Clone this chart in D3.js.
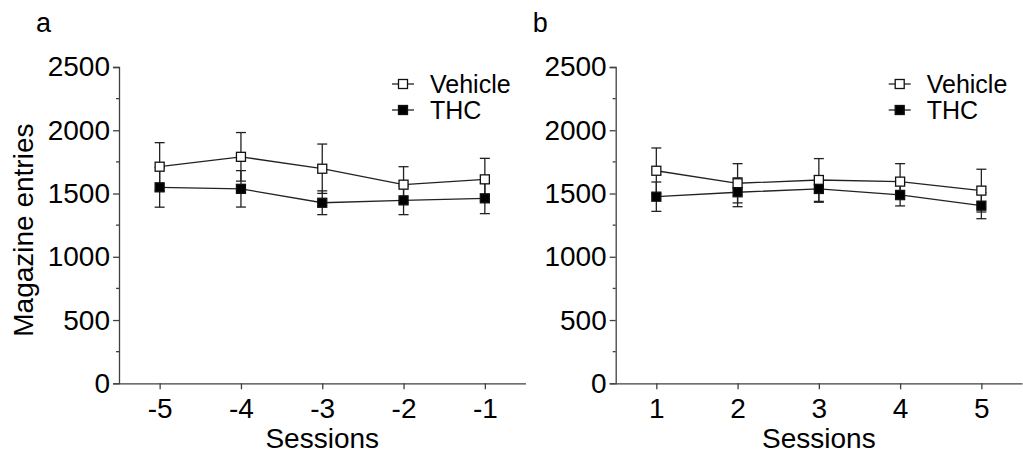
<!DOCTYPE html>
<html>
<head>
<meta charset="utf-8">
<script src="https://cdn.jsdelivr.net/npm/d3@7"></script>
<style>
  html, body { margin: 0; padding: 0; background: #fff; }
  svg { display: block; font-family: "Liberation Sans", Arial, sans-serif; }
</style>
</head>
<body>
<svg id="chart" width="1023" height="458"></svg>
<script>
// ---- Data ----
const sessionsA = [-5, -4, -3, -2, -1];
const sessionsB = [1, 2, 3, 4, 5];
const vehicleA = [1712, 1790, 1696, 1570, 1612];
const vehicleA_err = [190, 192, 195, 142, 166];
const thcA = [1549, 1537, 1427, 1446, 1462];
const thcA_err = [157, 144, 94, 113, 121];
const vehicleB = [1680, 1581, 1607, 1594, 1523];
const vehicleB_err = [180, 155, 169, 142, 169];
const thcB = [1475, 1510, 1536, 1489, 1404];
const thcB_err = [116, 114, 105, 87, 103];
const yTicks = [0, 500, 1000, 1500, 2000, 2500];
const yMinorTicks = [250, 750, 1250, 1750, 2250];
const seriesNames = ["Vehicle", "THC"];
const panelLabels = ["a", "b"];

const svg = d3.select("#chart");
const axisColor = "#404040";
const yTop = 67, yBottom = 383.3;

const y = d3.scaleLinear().domain([0, 2500]).range([yBottom, yTop]);

function drawPanel(opts) {
  const { x0, x1, sessions, veh, vehErr, thc, thcErr, label, showYLabel } = opts;
  const x = d3.scaleLinear()
    .domain([sessions[0] - 0.5, sessions[sessions.length - 1] + 0.5])
    .range([x0, x1]);
  const g = svg.append("g");

  // y axis
  const yAxis = d3.axisLeft(y).tickValues(yTicks).tickSize(6).tickPadding(3).tickFormat(d3.format("d"));
  const ya = g.append("g").attr("transform", `translate(${x0},0)`).call(yAxis);
  ya.select(".domain").attr("stroke", axisColor).attr("stroke-width", 1.3);
  ya.selectAll(".tick line").attr("stroke", axisColor).attr("stroke-width", 1.3);
  ya.selectAll(".tick text").attr("font-size", 28).attr("fill", "#000")
    .attr("font-family", "Liberation Sans, Arial, sans-serif");
  // minor ticks
  g.append("g").selectAll("line").data(yMinorTicks).join("line")
    .attr("x1", x0 - 3).attr("x2", x0)
    .attr("y1", d => y(d)).attr("y2", d => y(d))
    .attr("stroke", axisColor).attr("stroke-width", 1.3);

  // x axis
  const xAxis = d3.axisBottom(x).tickValues(sessions).tickSize(6).tickPadding(9).tickSizeOuter(0)
    .tickFormat(d => d < 0 ? "-" + Math.abs(d) : String(d));
  const xa = g.append("g").attr("transform", `translate(0,${yBottom})`).call(xAxis);
  xa.select(".domain").attr("stroke", axisColor).attr("stroke-width", 1.3);
  xa.selectAll(".tick line").attr("stroke", axisColor).attr("stroke-width", 1.3);
  xa.selectAll(".tick text").attr("font-size", 28).attr("fill", "#000")
    .attr("font-family", "Liberation Sans, Arial, sans-serif");

  // x label
  g.append("text").attr("x", (x0 + x1) / 2).attr("y", 448)
    .attr("text-anchor", "middle").attr("font-size", 28).text("Sessions");

  if (showYLabel) {
    g.append("text")
      .attr("transform", `translate(33,${(yTop + yBottom) / 2 + 5}) rotate(-90)`)
      .attr("text-anchor", "middle").attr("font-size", 28).text("Magazine entries");
  }

  // panel label
  g.append("text").attr("x", x0 - 83).attr("y", 32).attr("font-size", 27).text(label);

  const series = [
    { vals: veh, err: vehErr, fill: "#fff" },
    { vals: thc, err: thcErr, fill: "#000" }
  ];
  const line = d3.line().x((d, i) => x(sessions[i])).y(d => y(d));
  const cap = 5;

  // error bars
  series.forEach(s => {
    const eb = g.append("g");
    s.vals.forEach((v, i) => {
      const cx = x(sessions[i]);
      eb.append("line").attr("x1", cx).attr("x2", cx)
        .attr("y1", y(v - s.err[i])).attr("y2", y(v + s.err[i]))
        .attr("stroke", "#222").attr("stroke-width", 1.3);
      [v - s.err[i], v + s.err[i]].forEach(e => {
        eb.append("line").attr("x1", cx - cap).attr("x2", cx + cap)
          .attr("y1", y(e)).attr("y2", y(e))
          .attr("stroke", "#222").attr("stroke-width", 1.3);
      });
    });
  });
  // lines
  series.forEach(s => {
    g.append("path").datum(s.vals).attr("d", line)
      .attr("fill", "none").attr("stroke", "#222").attr("stroke-width", 1.3);
  });
  // markers
  const ms = 9;
  series.forEach(s => {
    g.append("g").selectAll("rect").data(s.vals).join("rect")
      .attr("x", (d, i) => x(sessions[i]) - ms / 2)
      .attr("y", d => y(d) - ms / 2)
      .attr("width", ms).attr("height", ms)
      .attr("fill", s.fill).attr("stroke", "#111").attr("stroke-width", 1.3);
  });

  // legend
  const lx = x0 + 284;
  const legendY = [84, 110];
  seriesNames.forEach((name, k) => {
    const ly = legendY[k];
    g.append("line").attr("x1", lx - 11).attr("x2", lx + 11).attr("y1", ly).attr("y2", ly)
      .attr("stroke", "#222").attr("stroke-width", 1.3);
    g.append("rect").attr("x", lx - ms / 2).attr("y", ly - ms / 2).attr("width", ms).attr("height", ms)
      .attr("fill", series[k].fill).attr("stroke", "#111").attr("stroke-width", 1.3);
    g.append("text").attr("x", lx + 27).attr("y", ly + 9).attr("font-size", 25).text(name);
  });
}

drawPanel({ x0: 119, x1: 525.5, sessions: sessionsA, veh: vehicleA, vehErr: vehicleA_err,
  thc: thcA, thcErr: thcA_err, label: panelLabels[0], showYLabel: true });
drawPanel({ x0: 615.7, x1: 1022, sessions: sessionsB, veh: vehicleB, vehErr: vehicleB_err,
  thc: thcB, thcErr: thcB_err, label: panelLabels[1], showYLabel: false });
</script>
</body>
</html>
